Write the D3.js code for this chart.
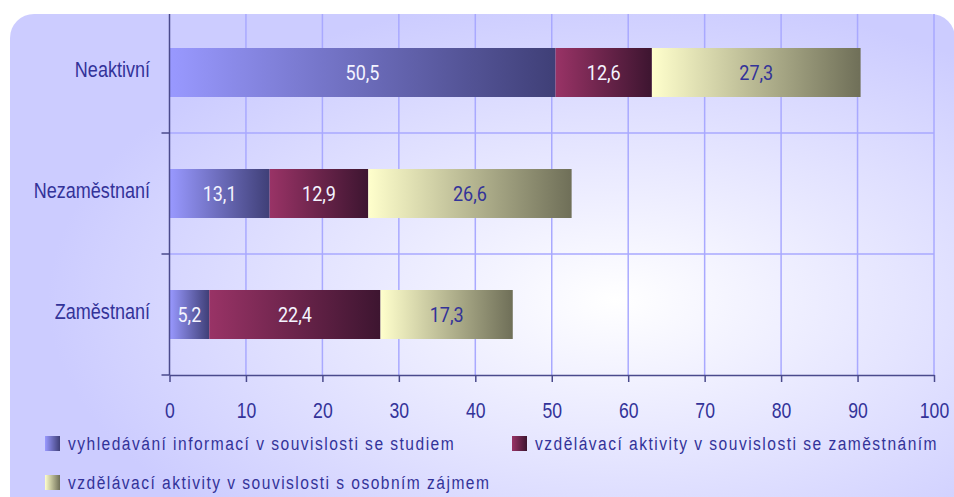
<!DOCTYPE html>
<html>
<head>
<meta charset="utf-8">
<script src="https://cdn.jsdelivr.net/npm/d3@7"></script>
<style>
  html, body { margin: 0; padding: 0; background: #fff; }
  svg { display: block; }
  text { font-family: "Liberation Sans", Arial, sans-serif; fill: #333399; }
  .val { font-family: Roboto, "Noto Sans", sans-serif; }
</style>
</head>
<body>
<svg id="chart" width="954" height="497"></svg>
<script>
// data
const categories = ['Neaktivní', 'Nezaměstnaní', 'Zaměstnaní']
const seriesNames = [
  'vyhledávání informací v souvislosti se studiem',
  'vzdělávací aktivity v souvislosti se zaměstnáním',
  'vzdělávací aktivity v souvislosti s osobním zájmem'
]
const studium = [50.5, 13.1, 5.2]
const zamestnani = [12.6, 12.9, 22.4]
const zajem = [27.3, 26.6, 17.3]
const xTicks = [0, 10, 20, 30, 40, 50, 60, 70, 80, 90, 100]

const svg = d3.select('#chart')
const defs = svg.append('defs')
const narrow = 'scale(0.82,1)' // font in the original is a narrow face

// panel background
const bg = defs.append('radialGradient')
  .attr('id', 'panelGrad')
  .attr('cx', 0.64).attr('cy', 0.56).attr('r', 0.6)
bg.append('stop').attr('offset', '0%').attr('stop-color', '#ffffff')
bg.append('stop').attr('offset', '100%').attr('stop-color', '#ccccff')

svg.append('rect')
  .attr('x', 10).attr('y', 14)
  .attr('width', 945).attr('height', 510)
  .attr('rx', 24).attr('ry', 24)
  .attr('fill', 'url(#panelGrad)')

// series gradients (light -> dark)
const palette = [
  ['#9999ff', '#3f3f77'],
  ['#993366', '#3d1530'],
  ['#ffffcc', '#6f6f58']
]
palette.forEach((c, i) => {
  const g = defs.append('linearGradient').attr('id', 'sg' + i)
    .attr('x1', 0).attr('x2', 1).attr('y1', 0).attr('y2', 0)
  g.append('stop').attr('offset', '0%').attr('stop-color', c[0])
  g.append('stop').attr('offset', '100%').attr('stop-color', c[1])
})
const labelColor = ['#f4f4ff', '#f4f4ff', '#333399']

const x = d3.scaleLinear().domain([0, 100]).range([169.5, 934])
const y = d3.scaleBand().domain(categories).range([12, 375])

// grid
const grid = svg.append('g').attr('class', 'grid')
grid.selectAll('.vg')
  .data(xTicks.slice(1))
  .enter()
  .append('line')
  .attr('x1', d => x(d)).attr('x2', d => x(d))
  .attr('y1', 14).attr('y2', 375)
  .attr('stroke', '#a9a9ff').attr('stroke-width', 1.5)
grid.selectAll('.hg')
  .data(categories.slice(1))
  .enter()
  .append('line')
  .attr('x1', x(0)).attr('x2', x(100))
  .attr('y1', d => y(d)).attr('y2', d => y(d))
  .attr('stroke', '#a9a9ff').attr('stroke-width', 1.5)

// stacked bars
const rows = categories.map((c, i) => ({ cat: c, values: [studium[i], zamestnani[i], zajem[i]] }))
const barH = y.bandwidth() * 0.405
const barG = svg.append('g').attr('id', 'bars')
rows.forEach(r => {
  let acc = 0
  r.values.forEach((v, s) => {
    const x0 = x(acc), x1 = x(acc + v)
    const yc = y(r.cat) + y.bandwidth() / 2
    barG.append('rect')
      .attr('x', x0).attr('y', yc - barH / 2)
      .attr('width', x1 - x0).attr('height', barH)
      .attr('fill', 'url(#sg' + s + ')')
    barG.append('text')
      .attr('class', 'val')
      .attr('transform', 'translate(' + (x0 + x1) / 2 + ',' + yc + ') scale(0.9,1)')
      .attr('dy', '0.36em')
      .attr('text-anchor', 'middle')
      .attr('font-size', 20)
      .style('fill', labelColor[s])
      .text(String(v).replace('.', ','))
    acc += v
  })
})

// axes
const axisColor = '#4a4a8c'
const xAxis = svg.append('g')
  .attr('transform', 'translate(0,375)')
  .call(d3.axisBottom(x).tickValues(xTicks).tickSize(7).tickSizeOuter(0))
xAxis.select('.domain').attr('stroke', axisColor).attr('stroke-width', 1.5)
xAxis.selectAll('.tick line').attr('stroke', axisColor).attr('stroke-width', 1.5)
xAxis.selectAll('.tick text')
  .attr('y', 27).attr('dy', '0.71em')
  .attr('font-size', 22)
  .attr('transform', 'scale(0.8,1)')
  .attr('fill', null)

const leftAxis = svg.append('g')
leftAxis.append('line')
  .attr('x1', x(0)).attr('x2', x(0))
  .attr('y1', 14).attr('y2', 375)
  .attr('stroke', axisColor).attr('stroke-width', 1.5)
leftAxis.selectAll('.ltick')
  .data(categories.slice(1).map(c => y(c)).concat([375]))
  .enter()
  .append('line')
  .attr('x1', x(0) - 8).attr('x2', x(0))
  .attr('y1', d => d).attr('y2', d => d)
  .attr('stroke', axisColor).attr('stroke-width', 1.5)
leftAxis.selectAll('.lbl')
  .data(categories)
  .enter()
  .append('text')
  .attr('transform', d => 'translate(150,' + (y(d) + y.bandwidth() / 2 - 3) + ') ' + narrow)
  .attr('dy', '0.36em')
  .attr('text-anchor', 'end')
  .attr('font-size', 22)
  .text(d => d)

// legend
const legendPos = [[45, 443], [512, 443], [45, 482]]
const legend = svg.append('g').attr('id', 'legend')
seriesNames.forEach((name, i) => {
  const g = legend.append('g')
    .attr('transform', 'translate(' + legendPos[i][0] + ',' + legendPos[i][1] + ')')
  g.append('rect')
    .attr('x', 0).attr('y', -7)
    .attr('width', 15).attr('height', 15)
    .attr('fill', 'url(#sg' + i + ')')
  g.append('text')
    .attr('transform', 'translate(23,0) ' + narrow)
    .attr('dy', '0.36em')
    .attr('font-size', 19)
    .attr('letter-spacing', 1.8)
    .text(name)
})
</script>
</body>
</html>
